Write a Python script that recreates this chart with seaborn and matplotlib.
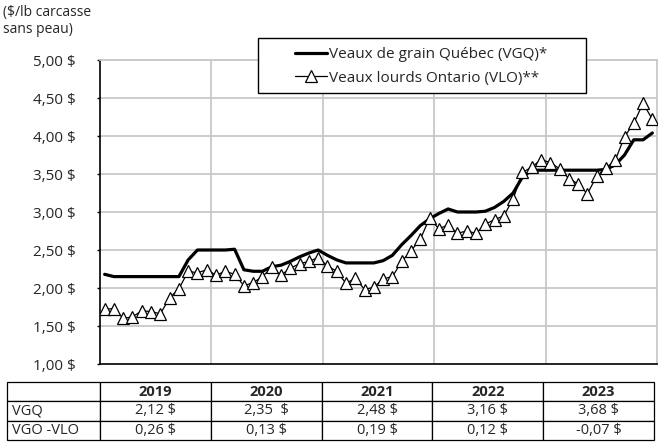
import matplotlib
matplotlib.use('Agg')
import matplotlib.pyplot as plt
from matplotlib.patches import Rectangle
import pandas as pd
import seaborn as sns
import numpy as np

# monthly prices, 2019-2023 ($/lb carcasse sans peau)
vgq = [2.18, 2.15, 2.15, 2.15, 2.15, 2.15, 2.15, 2.15, 2.15, 2.37, 2.50, 2.50,
       2.50, 2.50, 2.51, 2.24, 2.22, 2.22, 2.28, 2.30, 2.35, 2.41, 2.46, 2.50,
       2.43, 2.37, 2.33, 2.33, 2.33, 2.33, 2.36, 2.43, 2.57, 2.69, 2.82, 2.91,
       2.98, 3.04, 3.00, 3.00, 3.00, 3.01, 3.06, 3.14, 3.25, 3.46, 3.55, 3.55,
       3.55, 3.55, 3.55, 3.55, 3.55, 3.55, 3.56, 3.62, 3.75, 3.95, 3.95, 4.04]
vlo = [1.72, 1.73, 1.60, 1.62, 1.70, 1.69, 1.66, 1.87, 1.99, 2.22, 2.20, 2.24,
       2.17, 2.22, 2.18, 2.03, 2.07, 2.15, 2.27, 2.17, 2.26, 2.32, 2.35, 2.40,
       2.29, 2.22, 2.06, 2.13, 1.98, 2.01, 2.12, 2.15, 2.35, 2.49, 2.64, 2.92,
       2.78, 2.83, 2.72, 2.75, 2.72, 2.84, 2.90, 2.95, 3.17, 3.52, 3.59, 3.69,
       3.65, 3.57, 3.44, 3.37, 3.24, 3.47, 3.58, 3.68, 3.99, 4.17, 4.43, 4.22]

years = ['2019', '2020', '2021', '2022', '2023']
row_labels = ['VGQ', 'VGO -VLO']
vgq_avg = ['2,12 $', '2,35  $', '2,48 $', '3,16 $', '3,68 $']
ecart = ['0,26 $', '0,13 $', '0,19 $', '0,12 $', '-0,07 $']

df = pd.DataFrame({'mois': np.arange(len(vgq)), 'VGQ': vgq, 'VLO': vlo})

sns.set_style('white')
plt.rcParams['font.family'] = ['Open Sans', 'DejaVu Sans']

fig = plt.figure(figsize=(6.6, 4.42), dpi=100)
fig.patch.set_facecolor('white')
ax = fig.add_axes([100/660, 1-364/442, 557/660, 304/442])

sns.lineplot(data=df, x='mois', y='VGQ', ax=ax, color='black', linewidth=2.3,
             label='Veaux de grain Québec (VGQ)*', zorder=3)
sns.lineplot(data=df, x='mois', y='VLO', ax=ax, color='black', linewidth=0.9,
             marker='^', markersize=8, markerfacecolor='white',
             markeredgecolor='black', markeredgewidth=0.9,
             label='Veaux lourds Ontario (VLO)**', zorder=4)

ax.set_xlim(-0.5, len(vgq) - 0.5)
ax.set_ylim(1, 5)
yt = np.arange(1, 5.01, 0.5)
ax.set_yticks(yt)
ax.set_yticklabels([f'{v:.2f}'.replace('.', ',') + ' $' for v in yt], fontsize=11)
ax.set_xticks([])
ax.set_xlabel('')
ax.set_ylabel('')
ax.tick_params(axis='y', length=2.5, width=1, color='black', pad=15, left=True)

# grid
for v in yt[1:]:
    ax.axhline(v, color='#c8c8c8', linewidth=1.3, zorder=0)
for b in [11.5, 23.5, 35.5, 47.5]:
    ax.axvline(b, color='#c8c8c8', linewidth=1.3, zorder=0)
for s in ['left', 'bottom']:
    ax.spines[s].set_color('black')
    ax.spines[s].set_linewidth(1.2)
for s in ['top', 'right']:
    ax.spines[s].set_color('#c8c8c8')
    ax.spines[s].set_linewidth(1.3)

# legend box like the original, handles inset from the left edge
handles, labels = ax.get_legend_handles_labels()
ax.get_legend().remove()
fig.patches.append(Rectangle((258/660, 1-93/442), 328/660, 55/442,
                             transform=fig.transFigure, facecolor='white',
                             edgecolor='black', linewidth=1.0, zorder=2))
leg = fig.legend(handles, labels, loc='upper left',
                 bbox_to_anchor=(283/660, 1-35/442), fontsize=11,
                 frameon=False, handlelength=2.1, handletextpad=0.1,
                 borderpad=0.3, labelspacing=0.55)
leg.set_zorder(5)

fig.text(3/660, 1-5/442, '($/lb carcasse\nsans peau)', ha='left', va='top',
         fontsize=10, linespacing=1.15)

# table under the chart
tax = fig.add_axes([7/660, 1-440/442, 647/660, 58/442])
tax.axis('off')
cells = [[''] + years, [row_labels[0]] + vgq_avg, [row_labels[1]] + ecart]
w0 = 93/647
tbl = tax.table(cellText=cells, bbox=[0, 0, 1, 1], cellLoc='center',
                colWidths=[w0] + [(1 - w0) / 5] * 5)
tbl.auto_set_font_size(False)
tbl.set_fontsize(10.5)
for (r, c), cell in tbl.get_celld().items():
    cell.set_linewidth(0.9)
    cell.set_edgecolor('black')
    if r == 0:
        cell.get_text().set_fontweight('bold')
    if c == 0:
        cell.get_text().set_ha('left')
        cell.PAD = 0.05

fig.savefig('out.png', dpi=100)
